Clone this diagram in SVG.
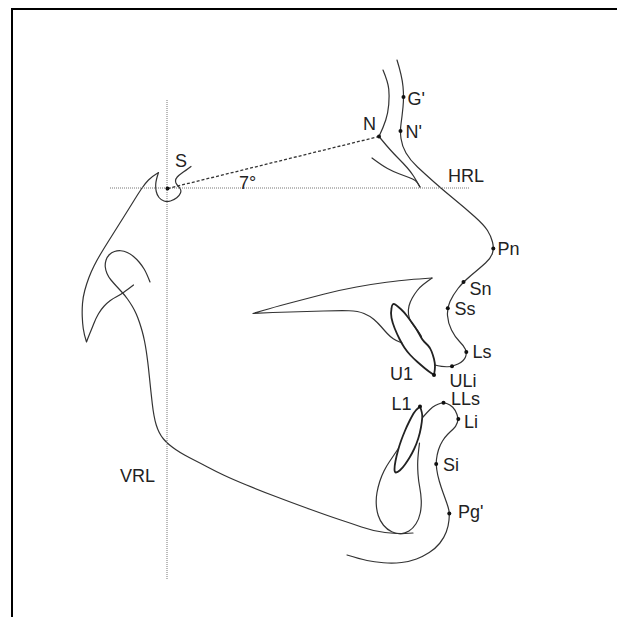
<svg xmlns="http://www.w3.org/2000/svg" width="617" height="617" viewBox="0 0 617 617">
<style>
.frame{stroke:#000;stroke-width:2;fill:none}
.trace{stroke:#333;stroke-width:1.2;fill:none;stroke-linejoin:round;stroke-linecap:round}
.tooth{stroke:#222;stroke-width:1.8;fill:none;stroke-linejoin:round}
.dot{stroke:#777;stroke-width:1;stroke-dasharray:1 1;fill:none}
.dash{stroke:#333;stroke-width:1.3;stroke-dasharray:3 2;fill:none}
.pt{fill:#111}
.lbl{font-family:"Liberation Sans",Arial,sans-serif;font-size:18px;fill:#222}
</style>
<rect width="617" height="617" fill="#fff"/>
<path class="frame" d="M11,9 H617 M12,8 V617"/>

<g id="tracing">
  <!-- sella + clivus hook -->
  <path class="trace" d="M191,166.5 Q185,171 182,173 Q179,175 177.25,177 Q175.5,179 175.5,181 Q175.5,183 177,184.75 Q178.5,186.5 180,188.5 Q181.5,190.5 180.5,193 Q179.5,195.5 176.75,197.75 Q174,200 170.5,201 Q167,202 164,201 Q161,200 159,197.5 Q157,195 156.25,191.5 Q155.5,188 155.75,184 Q156,180 158.5,172.5 Q152,176.5 148.5,180 Q145,183.5 141.5,188.75 Q138,194 134,200.5 Q130,207 125.75,213.75 Q121.5,220.5 117.25,227.25 Q113,234 108.75,240.75 Q104.5,247.5 100.75,253.75 Q97,260 94,266 Q91,272 88.75,278 Q86.5,284 84.75,290.5 Q83,297 82.5,303.5 Q82,310 82.25,316.5 Q82.5,323 83.25,328.5 Q84,334 86.5,342 Q88.5,336.5 90,333 Q91.5,329.5 93.75,323.75 Q96,318 98.5,313.75 Q101,309.5 104,306.25 Q107,303 110,300.75 Q113,298.5 116.5,296.75 Q120,295 123.5,292.5 Q127,290 133.5,285"/>
  <!-- condyle, ramus, mandibular border -->
  <path class="trace" d="M150,282 Q146.5,273 144.25,269.25 Q142,265.5 139.25,262.25 Q136.5,259 133.5,256.5 Q130.5,254 127.25,252.5 Q124,251 120.75,250.75 Q117.5,250.5 114.5,251.5 Q111.5,252.5 109.25,254.75 Q107,257 106,260.25 Q105,263.5 105.25,266.75 Q105.5,270 107,273.5 Q108.5,277 111,280 Q113.5,283 116.5,286.25 Q119.5,289.5 122.25,292.5 Q125,295.5 127.5,299 Q130,302.5 132.25,306.25 Q134.5,310 136.25,314 Q138,318 139.5,322.5 Q141,327 142.25,331.5 Q143.5,336 144.5,341 Q145.5,346 146.25,351 Q147,356 147.75,362 Q148.5,368 149.25,375.5 Q150,383 150.75,390 Q151.5,397 152.25,403.5 Q153,410 154,415.5 Q155,421 156.25,425 Q157.5,429 159.25,432.5 Q161,436 163.5,439 Q166,442 169,444.5 Q172,447 176,449.75 Q180,452.5 185,455.25 Q190,458 195,460.5 Q200,463 207.5,467 Q215,471 224,475.25 Q233,479.5 246.5,485 Q260,490.5 275,496.25 Q290,502 310,509.25 Q330,516.5 340,519.75 Q350,523 361.5,527 Q373,531 385,532.5 Q397,534 405,533.5 L413,533"/>
  <!-- frontal bone / nasal bone -->
  <path class="trace" d="M383,70 Q388,82 388.75,89 Q389.5,96 388.75,104.5 Q388,113 385.75,120 Q383.5,127 379,136.5 L382.5,140.75 Q386,145 390,149.5 Q394,154 398.5,158.5 Q403,163 407,167.5 Q411,172 413.5,176 Q416,180 418,183.5 L420,187"/>
  <path class="trace" d="M372,158 Q382,165.5 387.5,168.5 Q393,171.5 399,173.75 Q405,176 409,177.5 Q413,179 415.25,180.5 Q417.5,182 420,187"/>
  <!-- soft tissue profile -->
  <path class="trace" d="M397,60 Q402,76 403,86.5 Q404,97 403,107 Q402,117 401,124 Q400,131 401,138.5 Q402,146 406,153 Q410,160 417.5,167 Q425,174 434,182 Q443,190 454,199 Q465,208 474.5,216.5 Q484,225 487.5,230.5 Q491,236 492.5,242 Q494,248 492.5,253 Q491,258 485.5,263 Q480,268 471.5,275 Q463,282 458,288.5 Q453,295 450,301.5 Q447,308 447.5,315.5 Q448,323 451.5,330 Q455,337 459.5,341.5 Q464,346 465.5,349.5 Q467,353 465.5,357 Q464,361 458,364 Q452,367 446.5,366.75 Q441,366.5 438,365.75 L435,365"/>
  <!-- palate -->
  <path class="trace" d="M432,278 Q418,279 409,279.75 Q400,280.5 386.5,282.25 Q373,284 356.5,287 Q340,290 323.5,294.25 Q307,298.5 290,303 Q273,307.5 263,310.5 L253,313.5 Q273,312.5 290,312 Q307,311.5 323.5,311 Q340,310.5 349,310.75 Q358,311 364,313.5 Q370,316 374,319.5 Q378,323 381,326.5 Q384,330 387,333.25 Q390,336.5 393.25,338.75 Q396.5,341 402,343"/>
  <path class="trace" d="M432,278 Q426.5,282 423.25,284.5 Q420,287 417.25,290.5 Q414.5,294 412.25,298 Q410,302 409,306 Q408,310 408.5,314.25 Q409,318.5 411,321.75 Q413,325 415.5,328 Q418,331 420,334 L421.5,336.5"/>
  <!-- upper incisor -->
  <path class="tooth" d="M391.5,308.5 Q392,302.5 395.25,304.5 Q398,306.5 401,309.25 Q404,312 407,316 Q410,320 412.75,323.75 Q415.5,327.5 417.5,331 Q419.5,334.5 421,337.25 Q422.5,340 424.25,341.75 Q426,343.5 428,345.5 Q430,347.5 431.5,351.25 Q433,355 434,359 Q435,363 435,366.5 Q435,370 434,375 Q428,371 424.75,368.25 Q421.5,365.5 417.5,362 Q413.5,358.5 410.25,355 Q407,351.5 404.5,347.75 Q402,344 399.5,339 Q397,334 394.75,328.5 Q392.5,323 391.5,318 Q390.5,313 391.5,308.5 Z"/>
  <!-- lower incisor -->
  <path class="tooth" d="M420,406.5 Q415.5,410 413.5,413.5 Q411.5,417 409.25,421.5 Q407,426 405,430.75 Q403,435.5 401.25,440.25 Q399.5,445 398,450.5 Q396.5,456 395.5,461 Q394.5,466 394.5,469.25 Q394.5,472.5 396,472.5 Q397.5,472.5 400,470.25 Q402.5,468 405,464.5 Q407.5,461 409.75,457.25 Q412,453.5 414.25,448.75 Q416.5,444 418.25,438.5 Q420,433 421,427.25 Q422,421.5 422.25,417.25 Q422.5,413 420,406.5 Z"/>
  <!-- symphysis -->
  <path class="trace" d="M398,449 Q392,458 389.25,462 Q386.5,466 384,471 Q381.5,476 379.75,481.5 Q378,487 377,492.5 Q376,498 376.25,504 Q376.5,510 378.25,515.5 Q380,521 383.5,525.25 Q387,529.5 391.75,531.75 Q396.5,534 400.75,533.75 Q405,533.5 409,531 Q413,528.5 416,523.75 Q419,519 420.25,513 Q421.5,507 421.25,500.5 Q421,494 419.75,487.5 Q418.5,481 418,474 Q417.5,467 417.75,461 Q418,455 419.5,443"/>
  <!-- lower lip and soft tissue chin -->
  <path class="trace" d="M423,417 Q427,412.5 429.75,409.75 Q432.5,407 435.25,405.5 Q438,404 440.75,403.25 Q443.5,402.5 446.75,403.5 Q450,404.5 452.75,407.25 Q455.5,410 457,414.5 Q458.5,419 457.25,422.75 Q456,426.5 453.25,429 Q450.5,431.5 447.75,434.25 Q445,437 442.5,441 Q440,445 438.5,449.75 Q437,454.5 436.5,459.25 Q436,464 436.75,469.5 Q437.5,475 439.25,481 Q441,487 443,492.5 Q445,498 446.75,503 Q448.5,508 449,511 Q449.5,514 449,520 Q448.5,526 446.25,532 Q444,538 439.75,543.25 Q435.5,548.5 429.25,552.5 Q423,556.5 416.5,559 Q410,561.5 401.5,562.5 Q393,563.5 383.5,562.75 Q374,562 367,560.5 Q360,559 347,555"/>
</g>

<g id="connectors">
  <path id="HRL-line" class="dot" d="M110,188 H470"/>
  <path id="VRL-line" class="dot" d="M167,100 V580"/>
  <path id="S-N" class="dash" d="M167.5,188.5 L379,136.5"/>
</g>

<g id="node-S"><circle class="pt" cx="167.5" cy="188.5" r="2"/><text class="lbl" x="175" y="166.5">S</text></g>
<g id="node-angle"><text class="lbl" x="239" y="189">7°</text></g>
<g id="node-N"><circle class="pt" cx="379" cy="136.5" r="2"/><text class="lbl" x="363" y="130">N</text></g>
<g id="node-G"><circle class="pt" cx="403.5" cy="97" r="2"/><text class="lbl" x="407.5" y="105">G'</text></g>
<g id="node-Np"><circle class="pt" cx="400.5" cy="131" r="2"/><text class="lbl" x="405.5" y="138">N'</text></g>
<g id="node-HRL"><text class="lbl" x="448" y="182">HRL</text></g>
<g id="node-VRL"><text class="lbl" x="120" y="482">VRL</text></g>
<g id="node-Pn"><circle class="pt" cx="493.3" cy="248.5" r="2"/><text class="lbl" x="497.5" y="255">Pn</text></g>
<g id="node-Sn"><circle class="pt" cx="463.5" cy="282" r="2"/><text class="lbl" x="469.5" y="295">Sn</text></g>
<g id="node-Ss"><circle class="pt" cx="447.8" cy="308.2" r="2"/><text class="lbl" x="454.5" y="315">Ss</text></g>
<g id="node-Ls"><circle class="pt" cx="466.3" cy="352" r="2"/><text class="lbl" x="472.5" y="358">Ls</text></g>
<g id="node-ULi"><circle class="pt" cx="452" cy="366.3" r="2"/><text class="lbl" x="449.5" y="386.5">ULi</text></g>
<g id="node-U1"><circle class="pt" cx="434" cy="375" r="2"/><text class="lbl" x="390" y="380">U1</text></g>
<g id="node-L1"><circle class="pt" cx="420" cy="406.5" r="2"/><text class="lbl" x="391.5" y="409.5">L1</text></g>
<g id="node-LLs"><circle class="pt" cx="443.5" cy="402.8" r="2"/><text class="lbl" x="451" y="405">LLs</text></g>
<g id="node-Li"><circle class="pt" cx="458.3" cy="419" r="2"/><text class="lbl" x="464" y="427.5">Li</text></g>
<g id="node-Si"><circle class="pt" cx="436.2" cy="464" r="2"/><text class="lbl" x="443" y="470.5">Si</text></g>
<g id="node-Pg"><circle class="pt" cx="449.3" cy="513.5" r="2"/><text class="lbl" x="458" y="518">Pg'</text></g>
</svg>
